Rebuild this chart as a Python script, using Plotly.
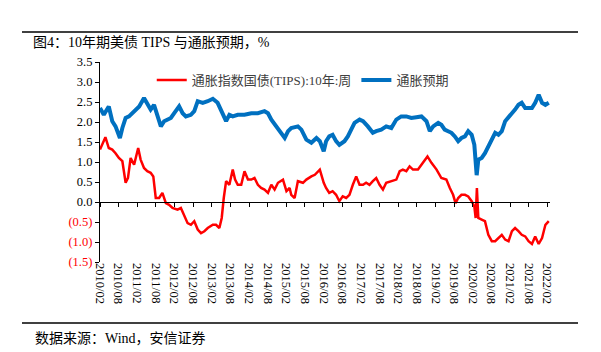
import plotly.graph_objects as go

# 通胀指数国债(TIPS):10年:周  (red)
tips_dates = [
    "2010-02-01", "2010-03-26", "2010-04-28", "2010-06-01", "2010-07-03", "2010-08-05",
    "2010-09-08", "2010-10-10", "2010-11-02", "2010-11-28", "2011-01-01", "2011-02-10",
    "2011-03-06", "2011-04-08", "2011-05-10", "2011-06-12", "2011-07-08", "2011-08-01",
    "2011-09-03", "2011-10-05", "2011-11-08", "2011-12-10", "2012-01-12", "2012-03-01",
    "2012-04-03", "2012-05-06", "2012-06-08", "2012-07-10", "2012-08-12", "2012-09-15",
    "2012-10-17", "2012-11-19", "2012-12-22", "2013-02-10", "2013-03-13", "2013-04-15",
    "2013-05-08", "2013-05-28", "2013-06-20", "2013-07-22", "2013-08-24", "2013-09-16",
    "2013-10-12", "2013-11-15", "2013-12-17", "2014-01-20", "2014-02-22", "2014-03-25",
    "2014-04-27", "2014-05-29", "2014-07-01", "2014-08-04", "2014-09-06", "2014-10-08",
    "2014-11-10", "2014-12-29", "2015-02-01", "2015-03-04", "2015-03-20", "2015-04-22",
    "2015-05-24", "2015-07-13", "2015-08-15", "2015-10-03", "2015-11-06", "2015-12-25",
    "2016-01-11", "2016-02-01", "2016-02-24", "2016-03-26", "2016-04-28", "2016-06-01",
    "2016-07-03", "2016-08-05", "2016-09-08", "2016-10-10", "2016-11-12", "2016-12-15",
    "2017-01-17", "2017-02-20", "2017-03-22", "2017-04-24", "2017-05-27", "2017-06-29",
    "2017-08-01", "2017-09-03", "2017-10-05", "2017-11-24", "2018-01-12", "2018-02-14",
    "2018-03-17", "2018-04-20", "2018-05-22", "2018-06-24", "2018-08-12", "2018-09-15",
    "2018-10-17", "2018-11-13", "2018-12-22", "2019-02-10", "2019-03-29", "2019-05-17",
    "2019-06-20", "2019-07-22", "2019-08-15", "2019-09-10", "2019-10-12", "2019-11-15",
    "2019-12-17", "2020-01-20", "2020-02-15", "2020-02-28", "2020-03-11", "2020-03-25",
    "2020-04-27", "2020-05-29", "2020-07-01", "2020-08-04", "2020-09-06", "2020-10-08",
    "2020-11-10", "2020-12-13", "2021-01-15", "2021-02-17", "2021-03-20", "2021-04-22",
    "2021-05-24", "2021-06-27", "2021-07-30", "2021-09-01", "2021-10-03", "2021-11-06",
    "2021-12-09", "2022-01-11", "2022-02-13",
]
tips_values = [
    1.31, 1.62, 1.35, 1.31, 1.22, 1.10,
    1.02, 0.48, 0.60, 1.10, 0.93, 1.35,
    1.06, 0.85, 0.77, 0.73, 0.64, 0.10,
    0.10, 0.23, -0.03, -0.07, -0.15, -0.19,
    -0.15, -0.36, -0.53, -0.57, -0.48, -0.69,
    -0.78, -0.73, -0.65, -0.57, -0.57, -0.65,
    -0.40, 0.10, 0.52, 0.43, 0.81, 0.56,
    0.43, 0.43, 0.77, 0.56, 0.56, 0.60,
    0.43, 0.35, 0.31, 0.23, 0.43, 0.31,
    0.48, 0.56, 0.27, 0.35, 0.18, 0.10,
    0.52, 0.48, 0.56, 0.64, 0.68, 0.81,
    0.64, 0.48, 0.35, 0.23, 0.27, 0.18,
    0.02, 0.14, 0.10, 0.18, 0.43, 0.64,
    0.43, 0.43, 0.48, 0.43, 0.52, 0.60,
    0.43, 0.31, 0.48, 0.52, 0.56, 0.77,
    0.81, 0.77, 0.89, 0.81, 0.81, 0.93,
    1.06, 1.14, 0.98, 0.81, 0.60, 0.56,
    0.35, 0.18, -0.03, 0.10, 0.18, 0.18,
    0.14, 0.02, -0.11, -0.40, 0.35, -0.40,
    -0.44, -0.48, -0.82, -0.98, -0.98, -0.90,
    -0.82, -0.94, -0.98, -0.73, -0.65, -0.73,
    -0.82, -0.86, -0.98, -1.05, -0.86, -1.05,
    -0.90, -0.57, -0.48,
]

# 通胀预期 (blue)
bei_dates = [
    "2010-02-01", "2010-03-10", "2010-04-28", "2010-06-01", "2010-07-03", "2010-08-15",
    "2010-09-08", "2010-10-10", "2010-11-12", "2010-12-15", "2011-01-17", "2011-02-20",
    "2011-04-08", "2011-05-10", "2011-06-12", "2011-07-15", "2011-08-17", "2011-09-20",
    "2011-10-22", "2011-11-24", "2011-12-27", "2012-01-29", "2012-03-17", "2012-04-20",
    "2012-05-22", "2012-07-10", "2012-08-12", "2012-09-15", "2012-11-03", "2012-12-22",
    "2013-02-10", "2013-03-29", "2013-05-17", "2013-06-20", "2013-07-22", "2013-08-24",
    "2013-10-12", "2013-12-17", "2014-02-22", "2014-04-27", "2014-07-01", "2014-08-04",
    "2014-09-06", "2014-10-25", "2014-12-13", "2015-01-15", "2015-02-17", "2015-03-20",
    "2015-05-24", "2015-06-27", "2015-08-15", "2015-10-03", "2015-11-22", "2015-12-25",
    "2016-02-01", "2016-02-24", "2016-03-26", "2016-04-28", "2016-06-01", "2016-07-03",
    "2016-08-22", "2016-09-24", "2016-10-27", "2016-11-29", "2017-01-17", "2017-02-20",
    "2017-04-08", "2017-05-27", "2017-06-29", "2017-08-17", "2017-10-05", "2017-11-24",
    "2018-01-12", "2018-03-01", "2018-04-20", "2018-06-08", "2018-07-27", "2018-09-15",
    "2018-11-03", "2018-12-06", "2019-01-08", "2019-02-26", "2019-03-29", "2019-05-01",
    "2019-06-03", "2019-07-06", "2019-08-08", "2019-09-10", "2019-10-12", "2019-11-15",
    "2019-12-17", "2020-01-20", "2020-02-15", "2020-02-28", "2020-03-09", "2020-03-25",
    "2020-04-27", "2020-05-29", "2020-07-01", "2020-08-04", "2020-09-06", "2020-10-08",
    "2020-11-10", "2020-12-13", "2021-01-15", "2021-02-17", "2021-03-20", "2021-04-22",
    "2021-05-24", "2021-06-27", "2021-07-30", "2021-09-01", "2021-10-03", "2021-11-06",
    "2021-12-09", "2022-01-11", "2022-02-13",
]
bei_values = [
    2.35, 2.18, 2.39, 2.02, 1.89, 1.60,
    1.85, 2.10, 2.14, 2.22, 2.31, 2.39,
    2.60, 2.43, 2.31, 2.43, 2.18, 1.89,
    2.02, 2.06, 2.10, 2.22, 2.39, 2.22,
    2.14, 2.18, 2.27, 2.52, 2.48, 2.52,
    2.58, 2.48, 2.22, 2.02, 2.18, 2.14,
    2.18, 2.18, 2.22, 2.22, 2.27, 2.22,
    2.06, 1.89, 1.68, 1.60, 1.77, 1.85,
    1.89, 1.81, 1.56, 1.48, 1.60, 1.52,
    1.27, 1.52, 1.64, 1.68, 1.52, 1.43,
    1.52, 1.64, 1.81, 1.98, 2.06, 2.02,
    1.89, 1.73, 1.77, 1.81, 1.89, 1.85,
    2.06, 2.14, 2.14, 2.10, 2.12, 2.14,
    2.02, 1.77, 1.89, 1.98, 1.93, 1.81,
    1.77, 1.73, 1.64, 1.52, 1.60, 1.64,
    1.77, 1.68, 1.43, 0.93, 0.67, 1.06,
    1.10, 1.22, 1.39, 1.60, 1.73, 1.68,
    1.77, 2.02, 2.14, 2.22, 2.31, 2.43,
    2.48, 2.35, 2.35, 2.35, 2.48, 2.68,
    2.48, 2.43, 2.48,
]

y_tickvals = [-1.5, -1.0, -0.5, 0.0, 0.5, 1.0, 1.5, 2.0, 2.5, 3.0, 3.5]
y_ticktext = ["(1.5)", "(1.0)", "(0.5)", "0.0", "0.5", "1.0", "1.5", "2.0", "2.5", "3.0", "3.5"]

title_text = "图4：10年期美债 TIPS 与通胀预期，%"
source_text = "数据来源：Wind，安信证券"
name_tips = "通胀指数国债(TIPS):10年:周"
name_bei = "通胀预期"

SERIF = "Liberation Serif, Noto Sans CJK SC, serif"
x_range = ["2010-02-01", "2022-02-25"]
y_range = [-1.5, 3.5]

tick_labels = [
    f"<span style='color:#FF0000'>{t}</span>" if v < 0 else t
    for v, t in zip(y_tickvals, y_ticktext)
]

fig = go.Figure()
fig.add_trace(go.Scatter(
    x=tips_dates, y=tips_values, name=name_tips, mode="lines",
    line=dict(color="#FF0000", width=2.5), xaxis="x2", yaxis="y",
))
fig.add_trace(go.Scatter(
    x=bei_dates, y=bei_values, name=name_bei, mode="lines",
    line=dict(color="#0070C0", width=4), xaxis="x", yaxis="y",
))

zero_pos = (0 - y_range[0]) / (y_range[1] - y_range[0])

fig.update_layout(
    width=601, height=352,
    margin=dict(l=100, r=51, t=62, b=90),
    paper_bgcolor="white", plot_bgcolor="white",
    font=dict(family=SERIF, size=12.5, color="black"),
    showlegend=True,
    legend=dict(
        orientation="h", x=0.115, y=0.985, xanchor="left", yanchor="top",
        bgcolor="rgba(0,0,0,0)", font=dict(size=13, color="#404040"),
        tracegroupgap=0,
    ),
    xaxis=dict(
        type="date", range=x_range, tick0="2010-02-01", dtick="M6",
        tickformat="%Y/%m", tickangle=90, showgrid=False, zeroline=False,
        showline=False, ticks="", anchor="y",
        tickfont=dict(family=SERIF, size=12.5, color="black"),
    ),
    xaxis2=dict(
        type="date", range=x_range, tick0="2010-02-01", dtick="M6",
        overlaying="x", anchor="free", position=zero_pos,
        showline=True, linecolor="black", linewidth=1.2,
        ticks="outside", ticklen=4, tickcolor="black", tickwidth=1.2,
        showticklabels=False, showgrid=False, zeroline=False,
    ),
    yaxis=dict(
        range=y_range, tickvals=y_tickvals, ticktext=tick_labels,
        showline=True, linecolor="black", linewidth=1.2,
        ticks="outside", ticklen=4, tickcolor="black", tickwidth=1.2,
        showgrid=False, zeroline=False,
        tickfont=dict(family=SERIF, size=12.5, color="black"),
    ),
    title=dict(
        text=title_text, x=33 / 601, xanchor="left", xref="container",
        y=1 - 42 / 352, yanchor="middle", yref="container",
        font=dict(family=SERIF, size=14, color="black"),
    ),
)

fig.add_annotation(
    text=source_text, xref="paper", yref="paper",
    x=(33 - 100) / 450, y=(262 - 338) / 200, xanchor="left", yanchor="middle",
    showarrow=False, font=dict(family=SERIF, size=14, color="black"),
)

for yp in [(262 - 32) / 200, (262 - 323) / 200]:
    fig.add_shape(
        type="line", xref="paper", yref="paper",
        x0=(22 - 100) / 450, x1=(578 - 100) / 450, y0=yp, y1=yp,
        line=dict(color="black", width=1.5),
    )

fig.write_html("out.html")
